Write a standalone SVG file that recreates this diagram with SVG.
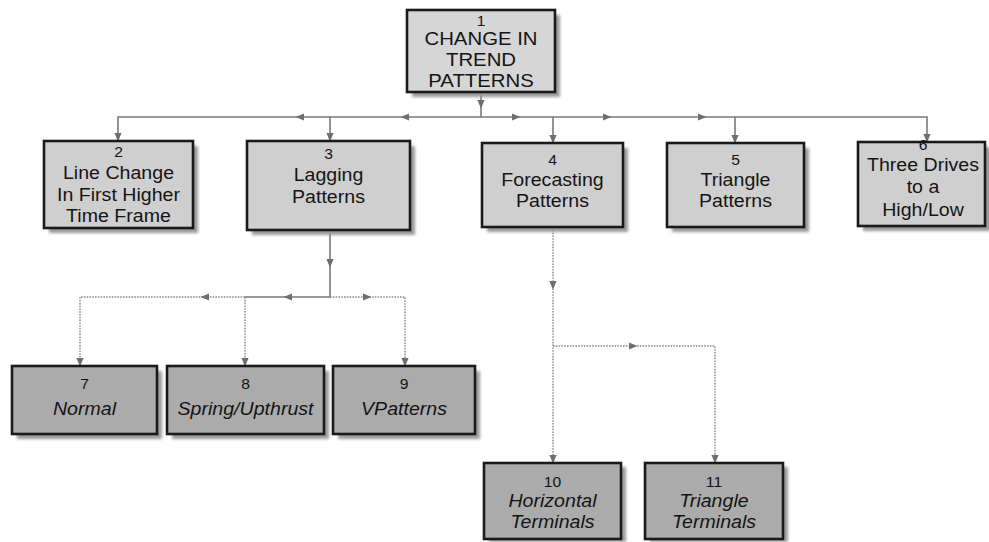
<svg xmlns="http://www.w3.org/2000/svg" xmlns:xlink="http://www.w3.org/1999/xlink" width="989" height="542" viewBox="0 0 989 542">
  <style>
    .box { stroke: #1a1a1a; stroke-width: 2.6; }
    .lt { fill: #cfcfcf; }
    .top { fill: #d6d6d6; }
    .dk { fill: #ababab; }
    .shadow { fill: #9a9a9a; filter: url(#soft); }
    text { font-family: "Liberation Sans", Arial, Helvetica, sans-serif; fill: #141414; text-anchor: middle; }
    .num { font-size: 14px; }
    .lbl { font-size: 17.5px; }
    .big { font-size: 18.5px; }
    .it { font-style: italic; }
    .bus { stroke: #7a7a7a; stroke-width: 1.6; fill: none; }
    .dot { stroke: #8a8a8a; stroke-width: 1.4; fill: none; stroke-dasharray: 1.6 1.2; }
    .arr { fill: #6e6e6e; }
  </style>
  <defs>
    <filter id="soft" x="-10%" y="-10%" width="120%" height="120%">
      <feGaussianBlur stdDeviation="1.6"/>
    </filter>
    <!-- small triangle pointing right; rotated as needed -->
    <path id="tri" d="M-4,-3.6 L4.5,0 L-4,3.6 Z"/>
  </defs>

  <!-- connectors -->
  <g id="connectors">
    <!-- level 1 bus -->
    <path class="bus" d="M481,92 V117"/>
    <path class="bus" d="M118,141 V117 H927 V142"/>
    <path class="bus" d="M330,117 V141"/>
    <path class="bus" d="M553,117 V143"/>
    <path class="bus" d="M735,117 V143"/>
    <!-- lagging patterns branch -->
    <path class="bus" d="M330,230 V297 H245"/>
    <path class="dot" d="M245,297 H80 V366"/>
    <path class="dot" d="M245,297 V366"/>
    <path class="dot" d="M330,297 H405 V366"/>
    <!-- forecasting patterns branch -->
    <path class="dot" d="M553,227 V463"/>
    <path class="dot" d="M553,346 H715 V463"/>

    <!-- arrowheads along the lines -->
    <g class="arr">
      <use xlink:href="#tri" transform="translate(481,104) rotate(90)"/>
      <use xlink:href="#tri" transform="translate(300,117) rotate(180)"/>
      <use xlink:href="#tri" transform="translate(405,117) rotate(180)"/>
      <use xlink:href="#tri" transform="translate(516,117)"/>
      <use xlink:href="#tri" transform="translate(607,117)"/>
      <use xlink:href="#tri" transform="translate(702,117)"/>
      <use xlink:href="#tri" transform="translate(118,137) rotate(90)"/>
      <use xlink:href="#tri" transform="translate(330,137) rotate(90)"/>
      <use xlink:href="#tri" transform="translate(553,139) rotate(90)"/>
      <use xlink:href="#tri" transform="translate(735,139) rotate(90)"/>
      <use xlink:href="#tri" transform="translate(927,138) rotate(90)"/>

      <use xlink:href="#tri" transform="translate(330,263) rotate(90)"/>
      <use xlink:href="#tri" transform="translate(205,297) rotate(180)"/>
      <use xlink:href="#tri" transform="translate(288,297) rotate(180)"/>
      <use xlink:href="#tri" transform="translate(367,297)"/>
      <use xlink:href="#tri" transform="translate(80,362) rotate(90)"/>
      <use xlink:href="#tri" transform="translate(245,362) rotate(90)"/>
      <use xlink:href="#tri" transform="translate(405,362) rotate(90)"/>

      <use xlink:href="#tri" transform="translate(553,285) rotate(90)"/>
      <use xlink:href="#tri" transform="translate(633,346)"/>
      <use xlink:href="#tri" transform="translate(553,459) rotate(90)"/>
      <use xlink:href="#tri" transform="translate(715,459) rotate(90)"/>
    </g>
  </g>

  <g id="node1">
    <rect class="shadow" x="412" y="15" width="148" height="82"/>
    <rect class="box top" x="407" y="10" width="148" height="82"/>
    <g transform="translate(481,0) scale(1.1,1)">
      <text class="num" x="0" y="26">1</text>
      <text class="big" x="0" y="45">CHANGE IN</text>
      <text class="big" x="0" y="66">TREND</text>
      <text class="big" x="0" y="87">PATTERNS</text>
    </g>
  </g>

  <g id="node2">
    <rect class="shadow" x="49" y="146" width="149" height="87"/>
    <rect class="box lt" x="44" y="141" width="149" height="87"/>
    <g transform="translate(118.5,0) scale(1.12,1)">
      <text class="num" x="0" y="157">2</text>
      <text class="lbl" x="0" y="179">Line Change</text>
      <text class="lbl" x="0" y="201">In First Higher</text>
      <text class="lbl" x="0" y="222">Time Frame</text>
    </g>
  </g>

  <g id="node3">
    <rect class="shadow" x="252" y="146" width="163" height="89"/>
    <rect class="box lt" x="247" y="141" width="163" height="89"/>
    <g transform="translate(328.5,0) scale(1.12,1)">
      <text class="num" x="0" y="159">3</text>
      <text class="lbl" x="0" y="181">Lagging</text>
      <text class="lbl" x="0" y="203">Patterns</text>
    </g>
  </g>

  <g id="node4">
    <rect class="shadow" x="487" y="148" width="141" height="84"/>
    <rect class="box lt" x="482" y="143" width="141" height="84"/>
    <g transform="translate(552.5,0) scale(1.12,1)">
      <text class="num" x="0" y="165">4</text>
      <text class="lbl" x="0" y="186">Forecasting</text>
      <text class="lbl" x="0" y="207">Patterns</text>
    </g>
  </g>

  <g id="node5">
    <rect class="shadow" x="672" y="148" width="137" height="84"/>
    <rect class="box lt" x="667" y="143" width="137" height="84"/>
    <g transform="translate(735.5,0) scale(1.12,1)">
      <text class="num" x="0" y="165">5</text>
      <text class="lbl" x="0" y="186">Triangle</text>
      <text class="lbl" x="0" y="207">Patterns</text>
    </g>
  </g>

  <g id="node6">
    <rect class="shadow" x="863" y="147" width="128" height="84"/>
    <rect class="box lt" x="858" y="142" width="127" height="84"/>
    <g transform="translate(923,0) scale(1.12,1)">
      <text class="num" x="0" y="150">6</text>
      <text class="lbl" x="0" y="171">Three Drives</text>
      <text class="lbl" x="0" y="193">to a</text>
      <text class="lbl" x="0" y="216">High/Low</text>
    </g>
  </g>

  <g id="node7">
    <rect class="shadow" x="17" y="371" width="145" height="68"/>
    <rect class="box dk" x="12" y="366" width="145" height="68"/>
    <g transform="translate(84.5,0) scale(1.12,1)">
      <text class="num" x="0" y="389">7</text>
      <text class="lbl it" x="0" y="415">Normal</text>
    </g>
  </g>

  <g id="node8">
    <rect class="shadow" x="172" y="371" width="157" height="68"/>
    <rect class="box dk" x="167" y="366" width="157" height="68"/>
    <g transform="translate(245.5,0) scale(1.12,1)">
      <text class="num" x="0" y="389">8</text>
      <text class="lbl it" x="0" y="415">Spring/Upthrust</text>
    </g>
  </g>

  <g id="node9">
    <rect class="shadow" x="338" y="371" width="142" height="68"/>
    <rect class="box dk" x="333" y="366" width="142" height="68"/>
    <g transform="translate(404,0) scale(1.12,1)">
      <text class="num" x="0" y="389">9</text>
      <text class="lbl it" x="0" y="415">VPatterns</text>
    </g>
  </g>

  <g id="node10">
    <rect class="shadow" x="489" y="467" width="137" height="75"/>
    <rect class="box dk" x="484" y="463" width="137" height="76"/>
    <g transform="translate(552.5,0) scale(1.12,1)">
      <text class="num" x="0" y="487">10</text>
      <text class="lbl it" x="0" y="507">Horizontal</text>
      <text class="lbl it" x="0" y="528">Terminals</text>
    </g>
  </g>

  <g id="node11">
    <rect class="shadow" x="650" y="467" width="138" height="75"/>
    <rect class="box dk" x="645" y="463" width="138" height="76"/>
    <g transform="translate(714,0) scale(1.12,1)">
      <text class="num" x="0" y="487">11</text>
      <text class="lbl it" x="0" y="507">Triangle</text>
      <text class="lbl it" x="0" y="528">Terminals</text>
    </g>
  </g>
</svg>
